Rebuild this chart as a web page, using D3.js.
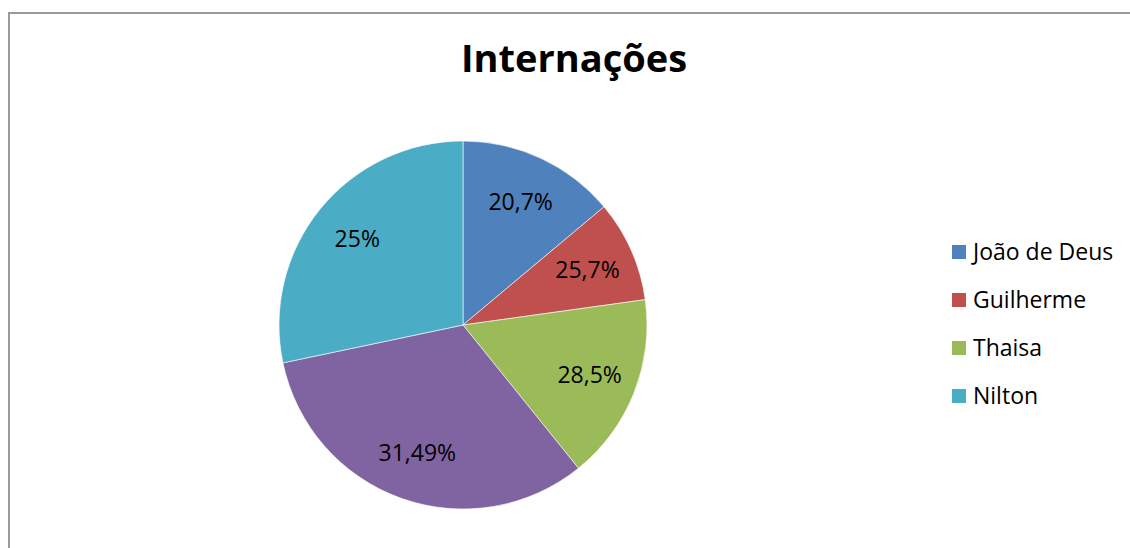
<!DOCTYPE html>
<html>
<head>
<meta charset="utf-8">
<script src="https://cdn.jsdelivr.net/npm/d3@7"></script>
<style>
  html, body { margin: 0; padding: 0; background: #fff; }
  svg { display: block; }
</style>
</head>
<body>
<div id="chart"></div>
<script>
// slice sizes (share of the circle, %)
const categories = ['João de Deus', 'Guilherme', 'Thaisa', '', 'Nilton'];
const values = [13.9, 8.9, 16.4, 32.5, 28.3];
// data labels as they are written on the chart
const labelTexts = ['20,7%', '25,7%', '28,5%', '31,49%', '25%'];
const colors = ['#4F81BD', '#C0504D', '#9BBB59', '#8064A2', '#4BACC6'];

const width = 1130, height = 548;
const font = '"Open Sans", Lato, sans-serif';

const svg = d3.select('#chart')
    .append('svg')
    .attr('width', width)
    .attr('height', height);

// frame of the chart area (right/bottom edges fall outside the picture)
svg.append('rect')
    .attr('x', 9)
    .attr('y', 13)
    .attr('width', width + 20)
    .attr('height', height + 20)
    .attr('fill', 'none')
    .attr('stroke', '#9a9a9a')
    .attr('stroke-width', 2);

svg.append('text')
    .attr('x', 574)
    .attr('y', 72)
    .attr('text-anchor', 'middle')
    .attr('font-family', font)
    .attr('font-weight', 'bold')
    .attr('font-size', 38)
    .attr('fill', '#000')
    .text('Internações');

const cx = 463, cy = 325, r = 184;

const pie = d3.pie().sort(null).value(d => d);
const arcs = pie(values);
const arc = d3.arc().innerRadius(0).outerRadius(r);
const labelArc = d3.arc().innerRadius(r * 0.74).outerRadius(r * 0.74);

const g = svg.append('g').attr('transform', `translate(${cx},${cy})`);

g.selectAll('path')
    .data(arcs)
    .enter()
    .append('path')
    .attr('d', arc)
    .attr('fill', (d, i) => colors[i])
    .attr('stroke', '#fff')
    .attr('stroke-width', 0.6);

g.selectAll('text.lbl')
    .data(arcs)
    .enter()
    .append('text')
    .attr('class', 'lbl')
    .attr('transform', d => `translate(${labelArc.centroid(d)})`)
    .attr('text-anchor', 'middle')
    .attr('dy', '0.35em')
    .attr('font-family', font)
    .attr('font-size', 23)
    .attr('fill', '#000')
    .text((d, i) => labelTexts[i]);

// legend: the purple slice has no entry
const legendItems = categories
    .map((name, i) => ({ name: name, color: colors[i] }))
    .filter(d => d.name !== '');

const legend = svg.append('g')
    .selectAll('g')
    .data(legendItems)
    .enter()
    .append('g')
    .attr('transform', (d, i) => `translate(952, ${252 + i * 48})`);

legend.append('rect')
    .attr('x', 0)
    .attr('y', -7)
    .attr('width', 14)
    .attr('height', 14)
    .attr('fill', d => d.color);

legend.append('text')
    .attr('x', 21)
    .attr('dy', '0.36em')
    .attr('font-family', font)
    .attr('font-size', 23)
    .attr('fill', '#000')
    .text(d => d.name);
</script>
</body>
</html>
